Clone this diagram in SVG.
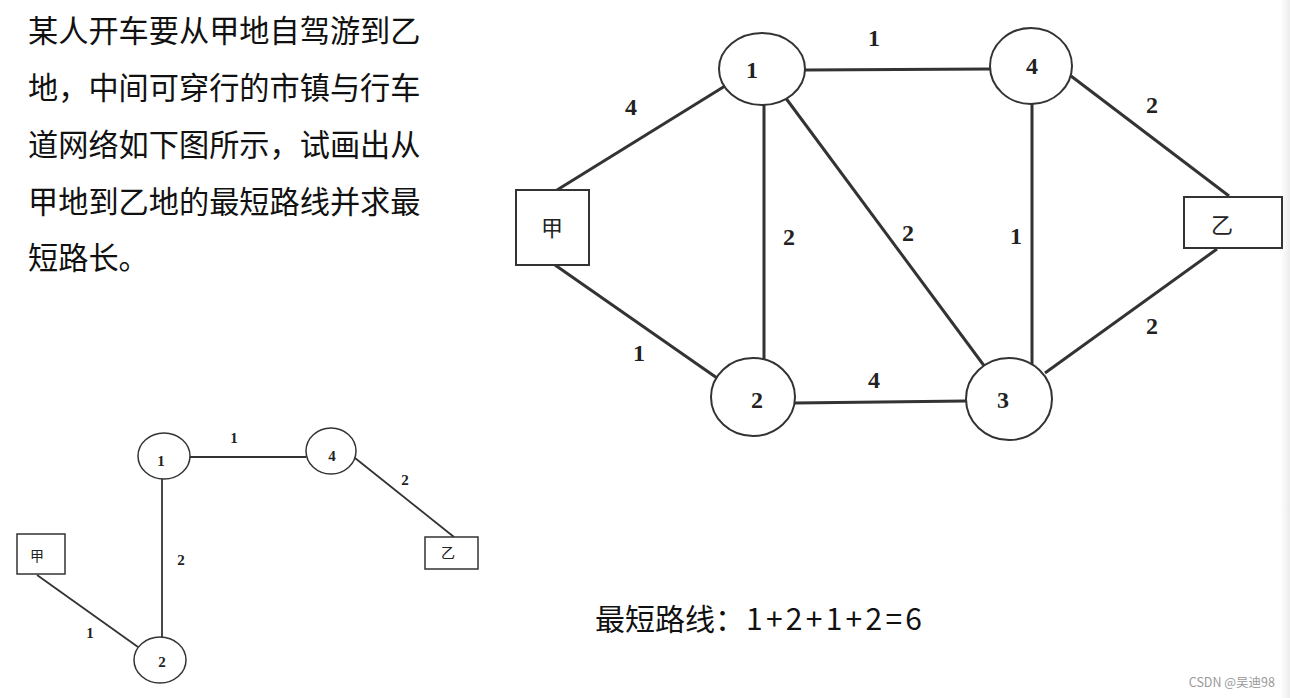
<svg xmlns="http://www.w3.org/2000/svg" width="1290" height="698" viewBox="0 0 1290 698">
<defs>
<linearGradient id="sh" x1="0" x2="1" y1="0" y2="0"><stop offset="0" stop-color="#ffffff"/><stop offset="1" stop-color="#ececec"/></linearGradient>
<style>
.t{font-family:"Noto Sans CJK SC","Noto Sans",sans-serif;font-size:30.2px;fill:#111}
.a{font-family:"Noto Sans CJK SC","Noto Sans",sans-serif;font-size:30px;fill:#111}
.n{font-family:"Liberation Serif",serif;font-weight:bold;fill:#222;text-anchor:middle}
.big{font-size:24px}
.sm{font-size:15px}
.cj{font-family:"Noto Sans CJK SC",sans-serif;fill:#222;text-anchor:middle}
.e{stroke:#333;stroke-width:3;fill:none}
.es{stroke:#333;stroke-width:1.8;fill:none}
.nd{fill:#fff;stroke:#333;stroke-width:2}
.nds{fill:#fff;stroke:#333;stroke-width:1.5}
</style>
</defs>
<rect width="1290" height="698" fill="#fff"/>
<rect x="1280" y="0" width="10" height="698" fill="url(#sh)"/>

<g id="problem-text">
<text class="t" x="28" y="42">某人开车要从甲地自驾游到乙</text>
<text class="t" x="28" y="99">地，中间可穿行的市镇与行车</text>
<text class="t" x="28" y="156">道网络如下图所示，试画出从</text>
<text class="t" x="28" y="213">甲地到乙地的最短路线并求最</text>
<text class="t" x="28" y="269">短路长。</text>
</g>

<g id="connectors">
<line class="e" x1="557" y1="190" x2="725" y2="86"/>
<line class="e" x1="555" y1="265" x2="717" y2="378"/>
<line class="e" x1="805" y1="70" x2="990" y2="69"/>
<line class="e" x1="764" y1="104" x2="764" y2="361"/>
<line class="e" x1="785" y1="97" x2="988" y2="371"/>
<line class="e" x1="1032" y1="103" x2="1032" y2="364"/>
<line class="e" x1="1071" y1="76" x2="1229" y2="196"/>
<line class="e" x1="1217" y1="249" x2="1045" y2="373"/>
<line class="e" x1="795" y1="403" x2="966" y2="401"/>

<line class="es" x1="190" y1="457" x2="306" y2="457"/>
<line class="es" x1="162" y1="479" x2="162" y2="637"/>
<line class="es" x1="37" y1="575" x2="138" y2="647"/>
<line class="es" x1="355" y1="458" x2="454" y2="537"/>
</g>

<g id="edge-labels">
<text class="n big" x="874" y="46">1</text>
<text class="n big" x="631" y="115">4</text>
<text class="n big" x="1152" y="113">2</text>
<text class="n big" x="789" y="245">2</text>
<text class="n big" x="908" y="241">2</text>
<text class="n big" x="1016" y="244">1</text>
<text class="n big" x="639" y="361">1</text>
<text class="n big" x="874" y="388">4</text>
<text class="n big" x="1152" y="334">2</text>

<text class="n sm" x="234" y="443">1</text>
<text class="n sm" x="405" y="485">2</text>
<text class="n sm" x="181" y="565">2</text>
<text class="n sm" x="90" y="638">1</text>
</g>

<g id="node-jia">
<rect class="nd" x="516" y="190" width="73" height="75"/>
<text class="cj" x="552" y="236" font-size="22">甲</text>
</g>
<g id="node-yi">
<rect class="nd" x="1184" y="197" width="98" height="51"/>
<text class="cj" x="1222" y="233" font-size="22">乙</text>
</g>
<g id="node-1">
<ellipse class="nd" cx="762" cy="69" rx="43" ry="36"/>
<text class="n big" x="752" y="78">1</text>
</g>
<g id="node-4">
<ellipse class="nd" cx="1031" cy="66" rx="41" ry="38"/>
<text class="n big" x="1032" y="74">4</text>
</g>
<g id="node-2">
<ellipse class="nd" cx="753" cy="397" rx="42" ry="39"/>
<text class="n big" x="757" y="408">2</text>
</g>
<g id="node-3">
<ellipse class="nd" cx="1009" cy="399" rx="43" ry="41"/>
<text class="n big" x="1003" y="408">3</text>
</g>

<g id="s-node-jia">
<rect class="nds" x="17" y="534" width="48" height="40"/>
<text class="cj" x="37" y="561" font-size="14">甲</text>
</g>
<g id="s-node-yi">
<rect class="nds" x="425" y="537" width="53" height="32"/>
<text class="cj" x="448" y="558" font-size="14">乙</text>
</g>
<g id="s-node-1">
<ellipse class="nds" cx="164" cy="456" rx="26" ry="23"/>
<text class="n sm" x="161" y="466">1</text>
</g>
<g id="s-node-4">
<ellipse class="nds" cx="331" cy="451" rx="25" ry="23"/>
<text class="n sm" x="332" y="461">4</text>
</g>
<g id="s-node-2">
<ellipse class="nds" cx="160" cy="660" rx="26" ry="23"/>
<text class="n sm" x="162" y="667">2</text>
</g>

<g id="answer">
<text class="a" x="595" y="630">最短路线：</text>
<text class="a" x="746" y="630" textLength="176" lengthAdjust="spacing">1+2+1+2=6</text>
</g>
<text x="1275" y="687" text-anchor="end" font-family="Noto Sans CJK SC,sans-serif" font-size="12.5" fill="#999">CSDN @吴迪98</text>
</svg>
